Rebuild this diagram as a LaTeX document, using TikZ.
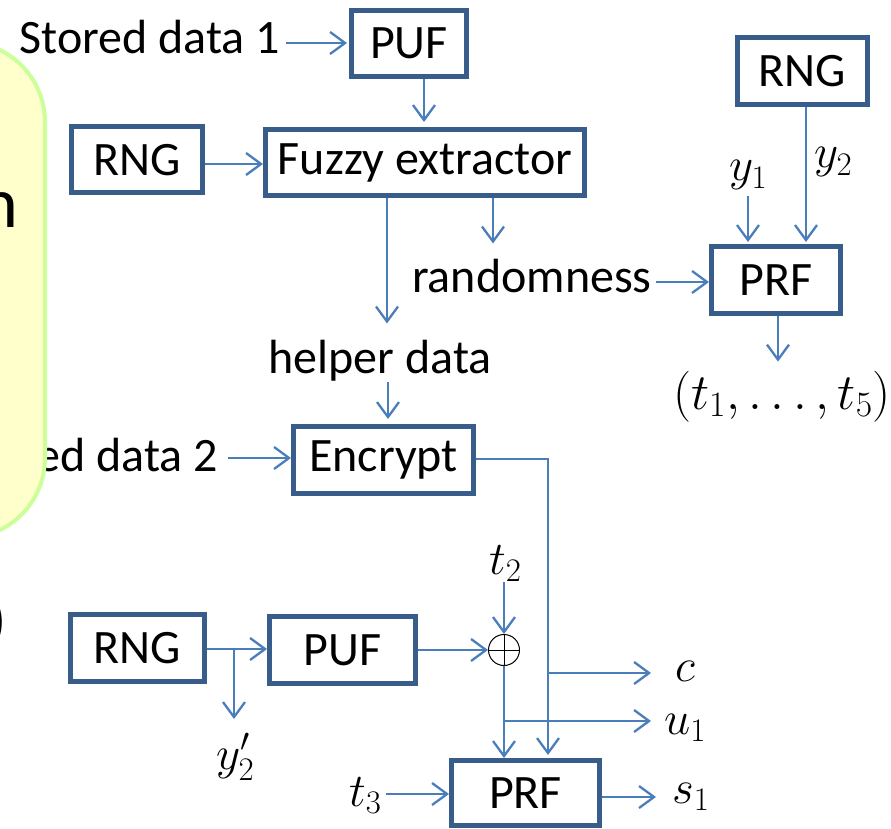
\RequirePackage{fix-cm}
\documentclass[tikz,border=0pt]{standalone}
\usepackage{fontspec}
\setmainfont{Carlito}
\usetikzlibrary{arrows.meta}
\definecolor{boxblue}{HTML}{385D8A}
\definecolor{linkblue}{HTML}{4A7EBB}
\definecolor{notefill}{HTML}{FFFFCC}
\definecolor{noteedge}{HTML}{CCFF99}

\begin{document}
\begin{tikzpicture}[x=1pt,y=-1pt,
  font=\fontsize{48}{56}\selectfont,
  block/.style={draw=boxblue, line width=5pt, inner sep=0pt, minimum height=67pt},
  link/.style={draw=linkblue, line width=2.3pt, -{Straight Barb[length=15pt,width=22pt]}},
  lbl/.style={inner sep=0pt},
  mathlbl/.style={inner sep=0pt, font=\fontsize{47}{54}\selectfont},
]
\path[use as bounding box] (0,0) rectangle (891,829);
\clip (0,0) rectangle (891,829);

% processing blocks
\node[block, minimum width=115pt, minimum height=66pt] (puf1) at (409,43.5) {PUF};
\node[block, minimum width=131pt, minimum height=66pt] (rng1) at (137,160) {RNG};
\node[block, minimum width=319pt, minimum height=66pt] (fuzzy) at (425,162.5) {Fuzzy extractor};
\node[block, minimum width=130pt] (rng2) at (802.5,71) {RNG};
\node[block, minimum width=129pt] (prf1) at (776,280) {PRF};
\node[block, minimum width=180pt] (enc) at (383.5,460) {Encrypt};
\node[block, minimum width=134pt] (rng3) at (137.5,648) {RNG};
\node[block, minimum width=146pt] (puf2) at (342.5,650) {PUF};
\node[block, minimum width=148pt, minimum height=65pt] (prf2) at (525.5,793) {PRF};

% xor
\node[circle, draw=black, line width=1pt, minimum size=31pt, inner sep=0pt] (xor) at (504,650) {};
\draw[black, line width=1pt] (xor.north) -- (xor.south) (xor.west) -- (xor.east);

% text labels
\node[lbl, anchor=base east] (sd1) at (280,54) {Stored data 1};
\node[lbl, anchor=base west] (rand) at (412,292) {randomness};
\node[lbl, anchor=base] (help) at (380,373) {helper data};
\node[lbl, anchor=base east] (sd2) at (218,471) {Stored data 2};

% math labels
\node[mathlbl, anchor=base west] (y1) at (729,181) {$y_1$};
\node[mathlbl, anchor=base west] (y2) at (814,168) {$y_2$};
\node[mathlbl, anchor=base, font=\fontsize{51}{58}\selectfont] (tv) at (782,409) {$(t_1,\ldots,t_5)$};
\node[mathlbl, anchor=base west] (t2) at (489,574) {$t_2$};
\node[mathlbl, anchor=base west] (c) at (675,681) {$c$};
\node[mathlbl, anchor=base west] (u1) at (664,734) {$u_1$};
\node[mathlbl, anchor=base west] (s1) at (672,803) {$s_1$};
\node[mathlbl, anchor=base west] (t3) at (349,806) {$t_3$};
\node[mathlbl, anchor=base west] (y2p) at (216,769) {$y_2'$};

% junction points on the output buses
\coordinate (bus) at (548,459);
\coordinate (cjoin) at (548,673);
\coordinate (ujoin) at (503,721);
\coordinate (rjoin) at (234,649);

% connectors
\draw[link, shorten <=6pt, shorten >=2pt] (sd1.east |- 0,43) -- (puf1.west |- 0,43);
\draw[link, shorten >=5pt] (424,0 |- puf1.south) -- (424,0 |- fuzzy.north);
\draw[link] (rng1.east |- 0,164) -- (fuzzy.west |- 0,164);
\draw[link, shorten >=16pt] (387,0 |- fuzzy.south) -- (387,0 |- help.north);
\draw[link, shorten >=15pt] (493,0 |- fuzzy.south) -- (493,0 |- rand.north);
\draw[link, shorten <=4pt] (rand.east |- 0,282) -- (prf1.west |- 0,282);
\draw[link, shorten <=1pt, shorten >=5pt] (388,0 |- help.south) -- (388,0 |- enc.north);
\draw[link, shorten <=10pt] (sd2.east |- 0,458) -- (enc.west |- 0,458);
\draw[link, shorten >=2pt] (806,0 |- rng2.south) -- (806,0 |- prf1.north);
\draw[link, shorten <=6pt, shorten >=2pt] (748,0 |- y1.south) -- (748,0 |- prf1.north);
\draw[link, shorten >=9pt] (778,0 |- prf1.south) -- (778,0 |- tv.north);
\draw[link, shorten >=3pt] (enc.east |- bus) -- (bus) -- (bus |- prf2.north);
\draw[link, shorten >=24pt] (cjoin) -- (c.west |- cjoin);
\draw[link] (rng3.east |- rjoin) -- (puf2.west |- rjoin);
\draw[link] (rjoin) -- ++(0,70);
\draw[link] (puf2.east |- xor) -- (xor.west);
\draw[link, shorten <=1pt] (xor.north |- t2.south) -- (xor.north);
\draw[link] (xor.south) -- (xor.south |- prf2.north);
\draw[link, shorten >=13pt] (ujoin) -- (u1.west |- ujoin);
\draw[link, shorten <=4pt] (t3.east |- 0,794) -- (prf2.west |- 0,794);
\draw[link, shorten >=16pt] (prf2.east |- 0,797) -- (s1.west |- 0,797);

% note panel at the left edge
\draw[fill=notefill, draw=noteedge, line width=4pt, rounded corners=80pt] (-250,42) rectangle (45,538);
\node[lbl, anchor=base east, font=\fontsize{72}{80}\selectfont] (notetail) at (19,227) {n};
\node[mathlbl, anchor=east, font=\fontsize{60}{66}\selectfont] (paren) at (8,622) {$)$};
\end{tikzpicture}
\end{document}
